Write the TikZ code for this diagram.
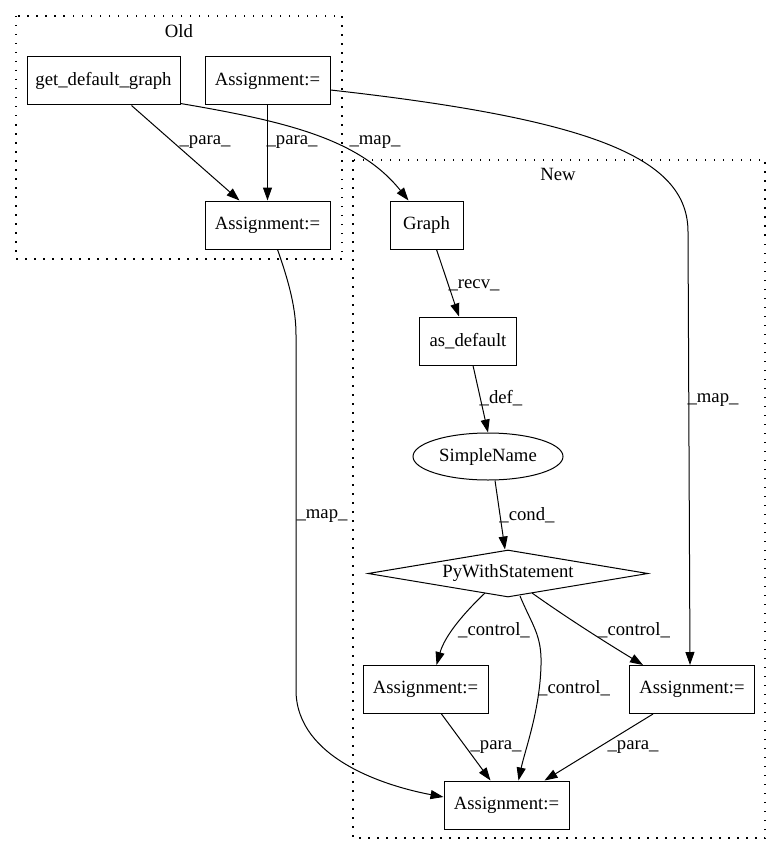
\documentclass[tikz,border=0pt]{standalone}
\usepackage{fontspec}
\setmainfont{Liberation Serif}
\usetikzlibrary{shapes.geometric, arrows.meta, calc}

\begin{document}
\begin{tikzpicture}[x=1pt, y=-1pt,
    font=\fontsize{18.7}{22}\selectfont,
    box/.style={draw, rectangle, line width=1pt, minimum height=48, inner sep=2pt},
    oval/.style={draw, ellipse, line width=1pt, minimum width=150, minimum height=47, inner sep=0pt},
    cond/.style={draw, diamond, aspect=6, line width=1pt, minimum width=280, minimum height=47, inner sep=0pt},
    cluster/.style={line width=1.2pt, dash pattern=on 1.5pt off 7.5pt},
    edge/.style={-{Triangle[length=13pt, width=9pt]}, line width=1pt},
    lbl/.style={inner sep=0pt}]
    \useasboundingbox (0,0) rectangle (781,856);

    % clusters
    \draw[cluster] (16,16) rectangle (342,259);
    \node[lbl] (old) at (179,31) {Old};
    \draw[cluster] (353,160) rectangle (765,838);
    \node[lbl] (new) at (558,174) {New};

    % old side
    \node[box, minimum width=153] (gdg)    at (103.5,81)  {get\_default\_graph};
    \node[box, minimum width=125] (oldasg) at (267.5,81)  {Assignment:=};
    \node[box, minimum width=125] (oldres) at (267.5,225) {Assignment:=};

    % new side
    \node[box, minimum width=73]  (graph)  at (426.5,225) {Graph};
    \node[box, minimum width=97]  (asdef)  at (468,341)   {as\_default};
    \node[oval]                   (sname)  at (488,456.5) {SimpleName};
    \node[cond]                   (pywith) at (508,573.5) {PyWithStatement};
    \node[box, minimum width=125] (asgl)   at (425.5,689.5) {Assignment:=};
    \node[box, minimum width=125] (asgr)   at (692,689.5)   {Assignment:=};
    \node[box, minimum width=125] (asgb)   at (506.5,805)   {Assignment:=};

    % edges
    \draw[edge] ($(gdg.south)+(28,0)$) -- ($(oldres.north)+(-28,0)$);
    \draw[edge] (oldasg) -- (oldres);
    \draw[edge] ($(gdg.south east)+(0,-2)$) .. controls (290,122) and (360,140) .. ($(graph.north)+(-18,0)$);
    \draw[edge] ($(oldasg.east)+(0,9)$) .. controls (600,120) and (688,160) .. (688,232) -- ($(asgr.north)+(-2,0)$);
    \draw[edge] ($(oldres.south)+(10,0)$) .. controls (290,285) and (296,310) .. (296,335)
        -- (296,690) .. controls (296,760) and (390,787) .. ($(asgb.west)+(0,-8)$);
    \draw[edge] ($(graph.south)+(10,0)$) -- ($(asdef.north)+(-9,0)$);
    \draw[edge] ($(asdef.south)+(5,0)$) -- (sname.north);
    \draw[edge] ($(sname.south)+(7,0)$) -- ($(pywith.north)+(-3,0)$);
    \draw[edge] (485,593) .. controls (465,612) and (445,635) .. ($(asgl.north)+(11,0)$);
    \draw[edge] (520,596) .. controls (532,625) and (542,635) .. (541,665)
        .. controls (540,710) and (525,750) .. ($(asgb.north)+(12,0)$);
    \draw[edge] (532,593) .. controls (570,620) and (610,645) .. ($(asgr.north)+(-49,0)$);
    \draw[edge] ($(asgl.south)+(16,0)$) -- ($(asgb.north)+(-16,0)$);
    \draw[edge] ($(asgr.south)+(-39,0)$) -- ($(asgb.north)+(38,0)$);

    % edge labels
    \node[lbl] (l1)  at (205,142) {\_para\_};
    \node[lbl] (l2)  at (292,142) {\_para\_};
    \node[lbl] (l3)  at (375,142) {\_map\_};
    \node[lbl] (l4)  at (474,285) {\_recv\_};
    \node[lbl] (l5)  at (501,398) {\_def\_};
    \node[lbl] (l6)  at (713,400) {\_map\_};
    \node[lbl] (l7)  at (527,515) {\_cond\_};
    \node[lbl] (l8)  at (322,516) {\_map\_};
    \node[lbl] (l9)  at (494,630) {\_control\_};
    \node[lbl] (l10) at (574,688) {\_control\_};
    \node[lbl] (l11) at (634,630) {\_control\_};
    \node[lbl] (l12) at (496,747) {\_para\_};
    \node[lbl] (l13) at (633,747) {\_para\_};
\end{tikzpicture}
\end{document}
